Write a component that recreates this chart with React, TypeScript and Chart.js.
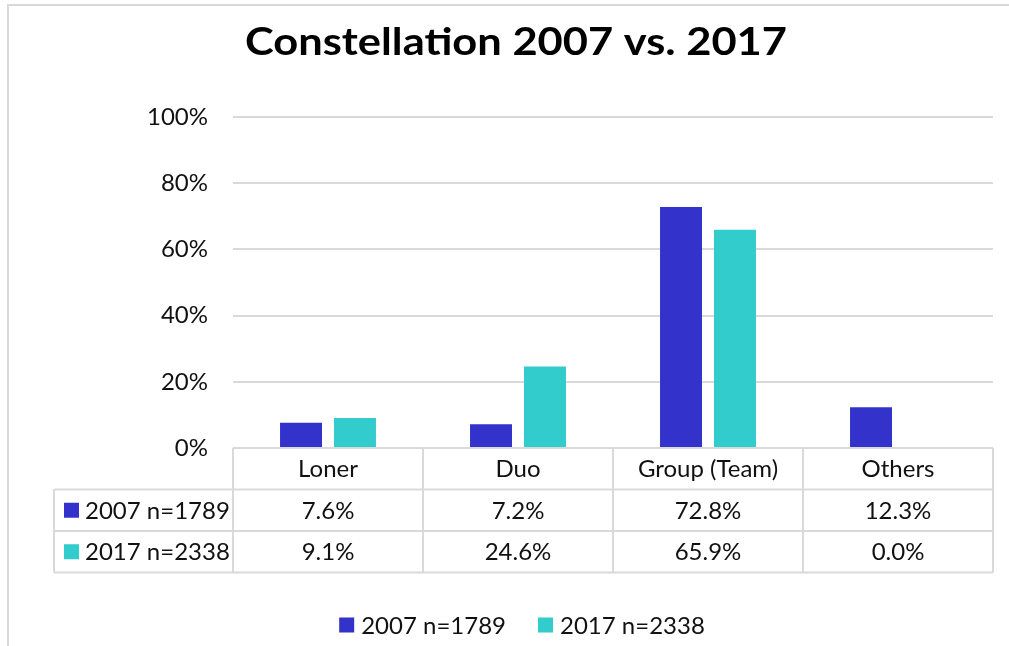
import React, { useEffect, useRef } from "react";
import { Chart, registerables } from "chart.js";

Chart.register(...registerables);

const TITLE = "Constellation 2007 vs. 2017";
const categories = ["Loner", "Duo", "Group (Team)", "Others"];
const seriesNames = ["2007 n=1789", "2017 n=2338"];
const values2007 = [7.6, 7.2, 72.8, 12.3];
const values2017 = [9.1, 24.6, 65.9, 0.0];
const colors = ["#3333cc", "#33cccc"];
const yTicks = [0, 20, 40, 60, 80, 100];

const FONT = "Lato, 'Liberation Sans', sans-serif";
const LINE = "#d9d9d9";
const TEXT = "#111111";

const decorPlugin = {
  id: "decor",
  beforeDraw(chart: any) {
    const ctx = chart.ctx;
    ctx.save();
    ctx.fillStyle = "#ffffff";
    ctx.fillRect(0, 0, chart.width, chart.height);
    ctx.strokeStyle = LINE;
    ctx.lineWidth = 2;
    ctx.beginPath();
    ctx.moveTo(8, chart.height);
    ctx.lineTo(8, 5);
    ctx.lineTo(chart.width, 5);
    ctx.stroke();
    ctx.restore();
  },
  afterDraw(chart: any) {
    const ctx = chart.ctx;
    const area = chart.chartArea;
    const xs = chart.scales.x;
    const n = categories.length;
    const catW = (area.right - area.left) / n;
    const rowH = 41.5;
    const top = area.bottom;
    const r1 = top + rowH;
    const r2 = r1 + rowH;
    const r3 = r2 + rowH;
    const labelLeft = 54;
    ctx.save();
    // title
    ctx.font = `bold 38px ${FONT}`;
    ctx.fillStyle = "#000";
    ctx.textBaseline = "alphabetic";
    ctx.textAlign = "center";
    const tw = ctx.measureText(TITLE).width;
    const targetW = 542;
    ctx.save();
    ctx.translate(516, 55);
    ctx.scale(targetW / tw, 1);
    ctx.fillText(TITLE, 0, 0);
    ctx.restore();

    // table grid
    ctx.strokeStyle = LINE;
    ctx.lineWidth = 2;
    ctx.beginPath();
    ctx.moveTo(area.left, top);
    ctx.lineTo(area.right, top);
    [r1, r2, r3].forEach((y) => {
      ctx.moveTo(labelLeft, y);
      ctx.lineTo(area.right, y);
    });
    ctx.moveTo(labelLeft, r1);
    ctx.lineTo(labelLeft, r3);
    for (let i = 0; i <= n; i++) {
      const x = area.left + i * catW;
      ctx.moveTo(x, top);
      ctx.lineTo(x, r3);
    }
    ctx.stroke();

    ctx.font = `24px ${FONT}`;
    ctx.fillStyle = TEXT;
    ctx.textAlign = "center";
    ctx.textBaseline = "middle";
    const allVals = [values2007, values2017];
    categories.forEach((c, i) => {
      const cx = xs.getPixelForValue(i);
      ctx.fillText(c, cx, (top + r1) / 2 + 1);
      ctx.fillText(allVals[0][i].toFixed(1) + "%", cx, (r1 + r2) / 2 + 1);
      ctx.fillText(allVals[1][i].toFixed(1) + "%", cx, (r2 + r3) / 2 + 1);
    });
    // row labels
    ctx.textAlign = "left";
    [r1, r2].forEach((y, k) => {
      const cy = y + rowH / 2;
      ctx.fillStyle = colors[k];
      ctx.fillRect(64, cy - 7.5, 15, 15);
      ctx.fillStyle = TEXT;
      ctx.fillText(seriesNames[k], 85, cy + 1);
    });

    // bottom legend
    const box = 15;
    const gapBox = 7;
    const gapItem = 32;
    const widths = seriesNames.map((s) => ctx.measureText(s).width);
    const total = widths.reduce((a, w) => a + box + gapBox + w, 0) + gapItem;
    let x = 522 - total / 2;
    const ly = 625;
    seriesNames.forEach((s, k) => {
      ctx.fillStyle = colors[k];
      ctx.fillRect(x, ly - 7.5, box, box);
      ctx.fillStyle = TEXT;
      ctx.fillText(s, x + box + gapBox, ly + 1);
      x += box + gapBox + widths[k] + gapItem;
    });
    ctx.restore();
  },
};

export default function App() {
  const ref = useRef<HTMLCanvasElement | null>(null);
  useEffect(() => {
    if (!ref.current) return;
    const chart = new Chart(ref.current, {
      type: "bar",
      data: {
        labels: categories,
        datasets: [
          { label: seriesNames[0], data: values2007, backgroundColor: colors[0] },
          { label: seriesNames[1], data: values2017, backgroundColor: colors[1] },
        ],
      },
      options: {
        responsive: false,
        animation: false,
        devicePixelRatio: 1,
        layout: { padding: { top: 117, left: 0, right: 16, bottom: 198 } },
        datasets: { bar: { categoryPercentage: 0.568, barPercentage: 0.778 } },
        plugins: {
          legend: { display: false },
          title: { display: false },
          tooltip: { enabled: false },
        },
        scales: {
          x: { display: false },
          y: {
            min: 0,
            max: 100,
            afterFit(scale: any) {
              scale.width = 233;
            },
            afterBuildTicks(scale: any) {
              scale.ticks = yTicks.map((v) => ({ value: v }));
            },
            border: { display: false },
            grid: { color: LINE, lineWidth: 2, drawTicks: false },
            ticks: {
              padding: 25,
              color: TEXT,
              font: { family: FONT, size: 24 },
              callback: (v: any) => v + "%",
            },
          },
        },
      },
      plugins: [decorPlugin],
    });
    return () => chart.destroy();
  }, []);
  return (
    <div style={{ position: "absolute", left: 0, top: 0, width: 1009, height: 646, overflow: "hidden" }}>
      <canvas ref={ref} width={1009} height={646} style={{ display: "block" }} />
    </div>
  );
}
